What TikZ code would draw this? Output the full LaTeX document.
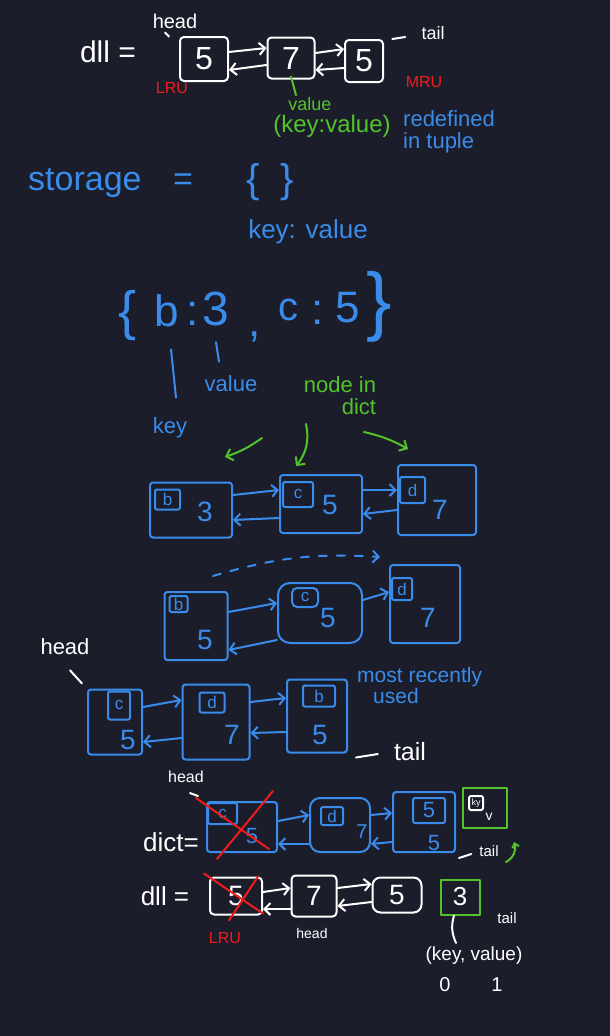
\documentclass[tikz,border=0pt]{standalone}
\usepackage{fontspec}
\setmainfont{Liberation Sans}
\usetikzlibrary{arrows.meta}
\definecolor{board}{HTML}{1B1D2B}
\definecolor{bluepen}{HTML}{3A8CEB}
\definecolor{greenpen}{HTML}{52C42A}
\definecolor{redpen}{HTML}{F21B1B}
\newcommand{\txtsize}[1]{\fontsize{#1}{#1}\selectfont}
\tikzset{
  ink/.style={line width=2pt, line cap=round, line join=round},
  wbox/.style={ink, draw=white, text=white, rounded corners=4pt, inner sep=0pt, font=\txtsize{32}},
  bbox/.style={ink, draw=bluepen, rounded corners=3pt, inner sep=0pt},
  gbox/.style={ink, draw=greenpen, text=white, inner sep=0pt},
  kbox/.style={ink, draw=bluepen, text=bluepen, anchor=north west, inner sep=0pt, rounded corners=2pt, font=\txtsize{17}},
  val/.style={text=bluepen, inner sep=0pt, font=\txtsize{28}},
  ptr/.style={ink, -{Straight Barb[length=6pt,width=12pt]}},
  note/.style={inner sep=0pt, font=\txtsize{20}},
}
\begin{document}
\begin{tikzpicture}[x=1pt, y=-1pt]
  \fill[board] (0,0) rectangle (610,1036);
  \useasboundingbox (0,0) rectangle (610,1036);

  % first list
  \node[note, white, font=\txtsize{30}] (dll1) at (108,52) {dll =};
  \node[note, white] (hd1) at (175,21) {head};
  \node[wbox, minimum width=48pt, minimum height=44pt] (a1) at (204,59) {5};
  \node[wbox, minimum width=47pt, minimum height=41pt] (a2) at (291,58) {7};
  \node[wbox, minimum width=38pt, minimum height=42pt] (a3) at (364,61) {5};
  \draw[ink, white] ([xshift=-10pt,yshift=-4pt]hd1.south) -- ([xshift=-6pt,yshift=-8pt]hd1.south);
  \draw[ptr, white] ([yshift=7pt]a1.east) -- ([yshift=10pt]a2.west);
  \draw[ptr, white] ([yshift=-7pt]a2.west) -- ([yshift=-11pt]a1.east);
  \draw[ptr, white] ([yshift=5pt]a2.east) -- ([yshift=12pt]a3.west);
  \draw[ptr, white] ([yshift=-7pt]a3.west) -- ([yshift=-12pt]a2.east);
  \node[note, white, font=\txtsize{18}] (tl1) at (433,33) {tail};
  \draw[ink, white] ([xshift=-29pt,yshift=-6pt]tl1.west) -- ([xshift=-16pt,yshift=-4pt]tl1.west);
  \node[note, redpen, font=\txtsize{16}] (lru1) at (172,88) {LRU};
  \node[note, redpen, font=\txtsize{16}] (mru1) at (424,82) {MRU};
  \node[note, greenpen, font=\txtsize{18}] (vl1) at (310,104) {value};
  \draw[ink, greenpen] ([yshift=3pt]a2.south) -- ([xshift=-14pt,yshift=2pt]vl1.north);
  \node[note, greenpen, font=\txtsize{24}] (kv1) at (332,126) {(key:value)};
  \node[note, bluepen, font=\txtsize{22}, align=left, anchor=north west] (rdf) at (403,110) {redefined\\in tuple};

  % storage
  \node[note, bluepen, font=\txtsize{34}, anchor=west] (stor) at (28,183) {storage};
  \node[note, bluepen, font=\txtsize{34}] (eq) at (183,182) {=};
  \node[note, bluepen, font=\txtsize{40}] (empty) at (270,182) {\{\hspace{0.5em}\}};
  \node[note, bluepen, font=\txtsize{26}] (kvlbl) at (308,232) {key: value};

  \node[note, bluepen, font=\txtsize{54}] (lbr) at (128,316) {\{};
  \node[note, bluepen, font=\txtsize{44}] (kb) at (167,311) {b};
  \node[note, bluepen, font=\txtsize{44}] (cb) at (193,314) {:};
  \node[note, bluepen, font=\txtsize{48}] (vb) at (216,309) {3};
  \node[note, bluepen, font=\txtsize{44}] (cm) at (255,337) {,};
  \node[note, bluepen, font=\txtsize{40}] (kc) at (288,310) {c};
  \node[note, bluepen, font=\txtsize{44}] (cc) at (318,313) {:};
  \node[note, bluepen, font=\txtsize{44}] (vc) at (348,308) {5};
  \node[note, bluepen, font=\txtsize{76}] (rbr) at (379,307) {\}};
  \node[note, bluepen, font=\txtsize{22}] (keylbl) at (170,428) {key};
  \node[note, bluepen, font=\txtsize{22}] (vallbl) at (231,384) {value};
  \draw[ink, bluepen] ([xshift=4pt,yshift=-22pt]kb.south) -- ([xshift=6pt,yshift=20pt]keylbl.north);
  \draw[ink, bluepen] ([yshift=-16pt]vb.south) -- ([xshift=-12pt,yshift=14pt]vallbl.north);

  \node[note, greenpen, font=\txtsize{22}, align=right] (nid) at (340,396) {node in\\dict};
  \coordinate (g1) at (262,438); \coordinate (g1t) at (225,457);
  \coordinate (g2) at (306,424); \coordinate (g2t) at (296,466);
  \coordinate (g3) at (364,432); \coordinate (g3t) at (408,449);
  \draw[ptr, greenpen] (g1) to[bend left=8] (g1t);
  \draw[ptr, greenpen] (g2) to[bend left=25] (g2t);
  \draw[ptr, greenpen] (g3) to[bend left=8] (g3t);

  % row 1
  \node[bbox, minimum width=82pt, minimum height=55pt] (r1b) at (191,510) {};
  \node[bbox, minimum width=82pt, minimum height=58pt] (r1c) at (321,504) {};
  \node[bbox, minimum width=78pt, minimum height=70pt] (r1d) at (437,500) {};
  \node[kbox, minimum width=25pt, minimum height=20pt] (r1bk) at ([shift={(5pt,-7pt)}]r1b.north west) {b};
  \node[kbox, minimum width=30pt, minimum height=25pt] (r1ck) at ([shift={(3pt,-7pt)}]r1c.north west) {c};
  \node[kbox, minimum width=25pt, minimum height=26pt] (r1dk) at ([shift={(2pt,-12pt)}]r1d.north west) {d};
  \node[val] (r1bv) at (205,512) {3};
  \node[val] (r1cv) at (330,505) {5};
  \node[val] (r1dv) at (440,510) {7};
  \draw[ptr, bluepen] ([yshift=15pt]r1b.east) -- ([yshift=14pt]r1c.west);
  \draw[ptr, bluepen] ([yshift=-14pt]r1c.west) -- ([yshift=-10pt]r1b.east);
  \draw[ptr, bluepen] ([yshift=14pt]r1c.east) -- ([yshift=10pt]r1d.west);
  \draw[ptr, bluepen] ([yshift=-10pt]r1d.west) -- ([yshift=-10pt]r1c.east);

  \coordinate (dsh1) at (213,576); \coordinate (dsh2) at (380,557);
  \draw[ptr, bluepen, dash pattern=on 8pt off 10pt] (dsh1) to[bend left=10] (dsh2);

  % row 2
  \node[bbox, minimum width=63pt, minimum height=68pt] (r2b) at (196,626) {};
  \node[bbox, rounded corners=12pt, minimum width=84pt, minimum height=60pt] (r2c) at (320,613) {};
  \node[bbox, minimum width=70pt, minimum height=78pt] (r2d) at (425,604) {};
  \node[kbox, minimum width=18pt, minimum height=16pt] (r2bk) at ([shift={(5pt,-4pt)}]r2b.north west) {b};
  \node[kbox, rounded corners=5pt, minimum width=26pt, minimum height=19pt] (r2ck) at ([shift={(14pt,-5pt)}]r2c.north west) {c};
  \node[kbox, minimum width=20pt, minimum height=22pt] (r2dk) at ([shift={(2pt,-13pt)}]r2d.north west) {d};
  \node[val] (r2bv) at (205,640) {5};
  \node[val] (r2cv) at (328,618) {5};
  \node[val] (r2dv) at (428,618) {7};
  \draw[ptr, bluepen] ([yshift=14pt]r2b.east) -- ([yshift=10pt]r2c.west);
  \draw[ptr, bluepen] ([yshift=-27pt]r2c.west) -- ([yshift=-24pt]r2b.east);
  \draw[ptr, bluepen] ([yshift=13pt]r2c.east) -- ([yshift=12pt]r2d.west);

  % row 3
  \node[note, white, font=\txtsize{22}] (hd3) at (65,647) {head};
  \node[bbox, minimum width=54pt, minimum height=65pt] (r3c) at (115,722) {};
  \node[bbox, minimum width=67pt, minimum height=75pt] (r3d) at (216,722) {};
  \node[bbox, minimum width=60pt, minimum height=73pt] (r3b) at (317,716) {};
  \node[kbox, minimum width=22pt, minimum height=28pt] (r3ck) at ([shift={(20pt,-2pt)}]r3c.north west) {c};
  \node[kbox, minimum width=25pt, minimum height=20pt] (r3dk) at ([shift={(17pt,-8pt)}]r3d.north west) {d};
  \node[kbox, minimum width=32pt, minimum height=21pt] (r3bk) at ([shift={(16pt,-6pt)}]r3b.north west) {b};
  \node[val] (r3cv) at (128,740) {5};
  \node[val] (r3dv) at (232,735) {7};
  \node[val] (r3bv) at (320,735) {5};
  \draw[ink, white] ([shift={(5pt,-15pt)}]hd3.south) -- ([shift={(-5pt,5pt)}]r3c.north west);
  \draw[ptr, bluepen] ([yshift=15pt]r3c.east) -- ([yshift=22pt]r3d.west);
  \draw[ptr, bluepen] ([yshift=-16pt]r3d.west) -- ([yshift=-20pt]r3c.east);
  \draw[ptr, bluepen] ([yshift=20pt]r3d.east) -- ([yshift=18pt]r3b.west);
  \draw[ptr, bluepen] ([yshift=-16pt]r3b.west) -- ([yshift=-11pt]r3d.east);
  \node[note, bluepen, font=\txtsize{21}, align=left, anchor=north west] (mru3) at (357,667) {most recently\\\hspace*{16pt}used};
  \node[note, white, font=\txtsize{25}] (tl3) at (410,752) {tail};
  \draw[ink, white] ([xshift=8pt,yshift=-4pt]r3b.south east) -- ([xshift=-16pt,yshift=-2pt]tl3.west);

  % row 4
  \node[note, white, font=\txtsize{16}] (hd4) at (186,777) {head};
  \node[note, white, font=\txtsize{26}] (dict4) at (171,842) {dict=};
  \node[bbox, minimum width=70pt, minimum height=50pt] (r4c) at (242,827) {};
  \node[bbox, rounded corners=10pt, minimum width=60pt, minimum height=54pt] (r4d) at (340,825) {};
  \node[bbox, minimum width=62pt, minimum height=60pt] (r4e) at (424,822) {};
  \node[kbox, minimum width=29pt, minimum height=21pt] (r4ck) at ([shift={(1pt,-1pt)}]r4c.north west) {c};
  \node[kbox, minimum width=22pt, minimum height=18pt] (r4dk) at ([shift={(11pt,-9pt)}]r4d.north west) {d};
  \node[kbox, minimum width=32pt, minimum height=25pt, font=\txtsize{22}] (r4ek) at ([shift={(20pt,-6pt)}]r4e.north west) {5};
  \node[val, font=\txtsize{22}] (r4cv) at (252,836) {5};
  \node[val, font=\txtsize{20}] (r4dv) at (362,832) {7};
  \node[val, font=\txtsize{22}] (r4ev) at (434,843) {5};
  \draw[ink, white] ([shift={(4pt,-10pt)}]hd4.south) -- ([shift={(-8pt,5pt)}]r4c.north west);
  \draw[ptr, bluepen] ([yshift=6pt]r4c.east) -- ([yshift=10pt]r4d.west);
  \draw[ptr, bluepen] ([yshift=-19pt]r4d.west) -- ([yshift=-17pt]r4c.east);
  \draw[ptr, bluepen] ([yshift=10pt]r4d.east) -- ([yshift=9pt]r4e.west);
  \draw[ptr, bluepen] ([yshift=-20pt]r4e.west) -- ([yshift=-19pt]r4d.east);
  \draw[ink, redpen] ([shift={(-10pt,3pt)}]r4c.north west) -- ([shift={(-9pt,4pt)}]r4c.south east);
  \draw[ink, redpen] ([shift={(-5pt,10pt)}]r4c.north east) -- ([shift={(11pt,-6pt)}]r4c.south west);
  \node[gbox, minimum width=44pt, minimum height=40pt] (g4) at (485,808) {};
  \node[kbox, draw=white, text=white, font=\txtsize{9}, minimum width=14pt, minimum height=14pt] (g4k) at ([shift={(6pt,-8pt)}]g4.north west) {ky};
  \node[note, white, font=\txtsize{14}] (g4v) at (489,817) {v};
  \node[note, white, font=\txtsize{15}] (tl4) at (489,851) {tail};
  \draw[ink, white] ([shift={(3pt,-5pt)}]r4e.south east) -- ([shift={(-8pt,-3pt)}]tl4.west);
  \coordinate (gh1) at (506,862); \coordinate (gh2) at (514,842);
  \draw[ink, greenpen, -{Straight Barb[length=4pt,width=7pt]}] (gh1) to[bend right=40] (gh2);

  % row 5
  \node[note, white, font=\txtsize{26}] (dll5) at (165,896) {dll =};
  \node[wbox, font=\txtsize{28}, minimum width=52pt, minimum height=37pt] (r5a) at (236,896) {5};
  \node[wbox, font=\txtsize{28}, minimum width=45pt, minimum height=41pt] (r5b) at (314,896) {7};
  \node[wbox, font=\txtsize{28}, rounded corners=8pt, minimum width=49pt, minimum height=35pt] (r5c) at (397,895) {5};
  \node[gbox, font=\txtsize{26}, minimum width=39pt, minimum height=35pt] (r5g) at (460,897) {3};
  \draw[ptr, white] ([yshift=4pt]r5a.east) -- ([yshift=8pt]r5b.west);
  \draw[ptr, white] ([yshift=-13pt]r5b.west) -- ([yshift=-13pt]r5a.east);
  \draw[ptr, white] ([yshift=8pt]r5b.east) -- ([yshift=11pt]r5c.west);
  \draw[ptr, white] ([yshift=-7pt]r5c.west) -- ([yshift=-10pt]r5b.east);
  \draw[ink, redpen] ([shift={(-5pt,3pt)}]r5a.north west) -- ([shift={(0pt,2pt)}]r5a.south east);
  \draw[ink, redpen] ([shift={(-5pt,0pt)}]r5a.north east) -- ([shift={(20pt,-5pt)}]r5a.south west);
  \node[note, redpen, font=\txtsize{16}] (lru5) at (225,938) {LRU};
  \node[note, white, font=\txtsize{14}] (hd5) at (312,933) {head};
  \node[note, white, font=\txtsize{15}] (tl5) at (507,918) {tail};
  \node[note, white, font=\txtsize{19}] (kv5) at (474,956) {(key, value)};
  \draw[ink, white] ([xshift=-6pt]r5g.south) to[bend right=20] ([xshift=-18pt,yshift=4pt]kv5.north);
  \node[note, white, font=\txtsize{20}] (z5) at (445,985) {0};
  \node[note, white, font=\txtsize{20}] (o5) at (497,985) {1};
\end{tikzpicture}
\end{document}
